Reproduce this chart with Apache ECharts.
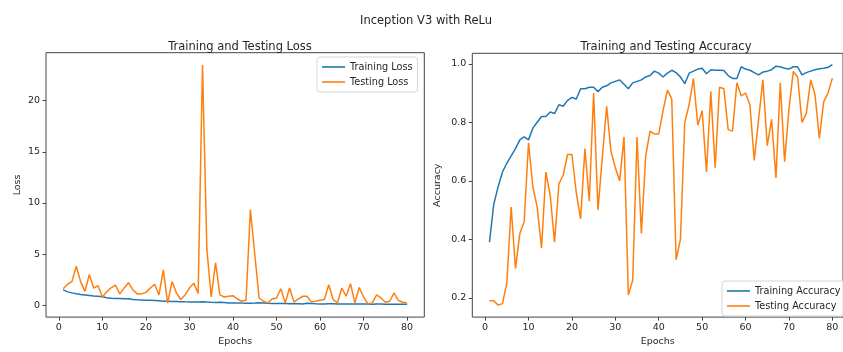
<!DOCTYPE html>
<html>
<head>
<meta charset="utf-8">
<script src="https://cdn.jsdelivr.net/npm/echarts@6/dist/echarts.min.js"></script>
<style>html,body{margin:0;padding:0;background:#fff;}#c{width:843px;height:352px;}</style>
</head>
<body>
<div id="c"></div>
<script>
const epochs = [1,2,3,4,5,6,7,8,9,10,11,12,13,14,15,16,17,18,19,20,21,22,23,24,25,26,27,28,29,30,31,32,33,34,35,36,37,38,39,40,41,42,43,44,45,46,47,48,49,50,51,52,53,54,55,56,57,58,59,60,61,62,63,64,65,66,67,68,69,70,71,72,73,74,75,76,77,78,79,80];

const trainLoss = [1.50,1.30,1.20,1.12,1.05,1.00,0.95,0.90,0.86,0.82,
  0.72,0.68,0.66,0.64,0.62,0.62,0.55,0.52,0.50,0.48,
  0.47,0.45,0.42,0.38,0.37,0.36,0.35,0.34,0.32,0.31,
  0.31,0.30,0.33,0.30,0.28,0.27,0.28,0.25,0.22,0.20,
  0.22,0.20,0.19,0.18,0.20,0.24,0.22,0.19,0.17,0.15,
  0.16,0.15,0.14,0.15,0.14,0.12,0.18,0.16,0.13,0.12,
  0.12,0.14,0.13,0.12,0.11,0.12,0.10,0.10,0.11,0.12,
  0.10,0.09,0.11,0.10,0.09,0.09,0.08,0.09,0.08,0.08];

const testLoss = [1.60,2.05,2.30,3.80,2.30,1.35,3.00,1.67,1.90,0.80,
  1.30,1.70,1.96,1.10,1.67,2.20,1.50,1.10,1.10,1.25,
  1.67,2.05,1.00,3.45,0.20,2.30,1.20,0.55,1.00,1.67,
  2.15,1.15,23.5,5.50,0.80,4.15,1.00,0.80,0.87,0.93,
  0.60,0.38,0.48,9.35,5.00,0.70,0.38,0.22,0.60,0.70,
  1.60,0.22,1.67,0.32,0.60,0.87,0.87,0.32,0.38,0.48,
  0.55,2.00,0.55,0.22,1.67,0.87,2.10,0.22,1.73,0.80,
  0.12,0.22,1.00,0.70,0.29,0.38,1.20,0.45,0.29,0.22];

const trainAcc = [0.39,0.52,0.58,0.63,0.66,0.685,0.71,0.74,0.75,0.74,
  0.78,0.80,0.82,0.82,0.835,0.83,0.86,0.855,0.875,0.885,
  0.88,0.915,0.915,0.92,0.92,0.905,0.92,0.925,0.935,0.94,
  0.945,0.93,0.915,0.935,0.94,0.945,0.955,0.96,0.975,0.968,
  0.955,0.968,0.978,0.97,0.955,0.932,0.968,0.975,0.982,0.985,
  0.966,0.98,0.978,0.978,0.977,0.96,0.95,0.95,0.99,0.982,
  0.978,0.97,0.962,0.972,0.975,0.98,0.992,0.99,0.985,0.982,
  0.99,0.99,0.962,0.97,0.975,0.98,0.983,0.985,0.988,0.997];

const testAcc = [0.19,0.19,0.175,0.18,0.25,0.51,0.30,0.42,0.46,0.73,
  0.58,0.51,0.37,0.63,0.55,0.39,0.59,0.62,0.69,0.69,
  0.56,0.47,0.71,0.53,0.90,0.50,0.68,0.855,0.70,0.645,
  0.60,0.75,0.21,0.26,0.75,0.42,0.685,0.77,0.76,0.76,
  0.84,0.91,0.88,0.33,0.40,0.80,0.86,0.95,0.79,0.84,
  0.63,0.905,0.645,0.92,0.915,0.775,0.77,0.935,0.89,0.90,
  0.86,0.67,0.81,0.945,0.72,0.81,0.61,0.935,0.665,0.845,
  0.974,0.955,0.80,0.83,0.945,0.895,0.745,0.87,0.90,0.951];

const xTicks = [0,10,20,30,40,50,60,70,80];
const lossTicks = [0,5,10,15,20];
const accTicks = [0.2,0.4,0.6,0.8,1.0];

const pairs = (ys) => epochs.map((e, i) => [e, ys[i]]);

const FONT = 'DejaVu Sans';
const TXT = '#262626';
const BLUE = '#1f77b4', ORANGE = '#ff7f0e';

function xAxisFor(gi, maxV) {
  return {
    type: 'value', gridIndex: gi, min: -2.95, max: maxV,
    name: 'Epochs', nameLocation: 'middle', nameGap: 19,
    nameTextStyle: {fontFamily: FONT, fontSize: 9.5, color: TXT},
    axisLine: {show: false, onZero: false},
    axisTick: {show: true, customValues: xTicks, length: 3.5, lineStyle: {color: '#444'}},
    axisLabel: {customValues: xTicks, fontFamily: FONT, fontSize: 9.5, color: TXT, margin: 5},
    splitLine: {show: false}
  };
}

const option = {
  backgroundColor: '#fff',
  animation: false,
  title: [
    {text: 'Inception V3 with ReLu', left: 421, top: 10, textAlign: 'center',
     textStyle: {fontFamily: FONT, fontSize: 11.5, fontWeight: 'normal', color: TXT}},
    {text: 'Training and Testing Loss', left: 235, top: 36, textAlign: 'center',
     textStyle: {fontFamily: FONT, fontSize: 11.5, fontWeight: 'normal', color: TXT}},
    {text: 'Training and Testing Accuracy', left: 661, top: 36, textAlign: 'center',
     textStyle: {fontFamily: FONT, fontSize: 11.5, fontWeight: 'normal', color: TXT}}
  ],
  grid: [
    {left: 46, top: 52.7, width: 378.3, height: 266.6, show: true, borderColor: '#444', borderWidth: 1, backgroundColor: 'transparent'},
    {left: 472.3, top: 53.3, width: 371.5, height: 266, show: true, borderColor: '#444', borderWidth: 1, backgroundColor: 'transparent'}
  ],
  xAxis: [xAxisFor(0, 83.95), xAxisFor(1, 82.45)],
  yAxis: [
    {type: 'value', gridIndex: 0, min: -1.17, max: 24.7,
     name: 'Loss', nameLocation: 'middle', nameGap: 23,
     nameTextStyle: {fontFamily: FONT, fontSize: 9.5, color: TXT},
     axisLine: {show: false, onZero: false},
     axisTick: {show: true, customValues: lossTicks, length: 3.5, lineStyle: {color: '#444'}},
     axisLabel: {customValues: lossTicks, fontFamily: FONT, fontSize: 9.5, color: TXT, margin: 6},
     splitLine: {show: false}},
    {type: 'value', gridIndex: 1, min: 0.134, max: 1.036,
     name: 'Accuracy', nameLocation: 'middle', nameGap: 30,
     nameTextStyle: {fontFamily: FONT, fontSize: 9.5, color: TXT},
     axisLine: {show: false, onZero: false},
     axisTick: {show: true, customValues: accTicks, length: 3.5, lineStyle: {color: '#444'}},
     axisLabel: {customValues: accTicks, fontFamily: FONT, fontSize: 9.5, color: TXT, margin: 6,
       formatter: (v) => v.toFixed(1)},
     splitLine: {show: false}}
  ],
  legend: [
    {data: ['Training Loss', 'Testing Loss'], orient: 'vertical', left: 317, top: 57,
     icon: 'rect', itemWidth: 23, itemHeight: 1.6, itemGap: 3,
     padding: [4, 5, 4, 5], backgroundColor: 'rgba(255,255,255,0.8)', borderColor: '#d5d5d5', borderWidth: 1, borderRadius: 3,
     textStyle: {fontFamily: FONT, fontSize: 9.7, color: TXT, lineHeight: 12}},
    {data: ['Training Accuracy', 'Testing Accuracy'], orient: 'vertical', left: 722, top: 281,
     icon: 'rect', itemWidth: 23, itemHeight: 1.6, itemGap: 3,
     padding: [4, 5, 4, 5], backgroundColor: 'rgba(255,255,255,0.8)', borderColor: '#d5d5d5', borderWidth: 1, borderRadius: 3,
     textStyle: {fontFamily: FONT, fontSize: 9.7, color: TXT, lineHeight: 12}}
  ],
  series: [
    {name: 'Training Loss', type: 'line', xAxisIndex: 0, yAxisIndex: 0, data: pairs(trainLoss),
     symbol: 'none', color: BLUE, lineStyle: {width: 1.5, color: BLUE}},
    {name: 'Testing Loss', type: 'line', xAxisIndex: 0, yAxisIndex: 0, data: pairs(testLoss),
     symbol: 'none', color: ORANGE, lineStyle: {width: 1.5, color: ORANGE}},
    {name: 'Training Accuracy', type: 'line', xAxisIndex: 1, yAxisIndex: 1, data: pairs(trainAcc),
     symbol: 'none', color: BLUE, lineStyle: {width: 1.5, color: BLUE}},
    {name: 'Testing Accuracy', type: 'line', xAxisIndex: 1, yAxisIndex: 1, data: pairs(testAcc),
     symbol: 'none', color: ORANGE, lineStyle: {width: 1.5, color: ORANGE}}
  ]
};

const chart = echarts.init(document.getElementById('c'), null, {renderer: 'canvas'});
chart.setOption(option);
</script>
</body>
</html>
